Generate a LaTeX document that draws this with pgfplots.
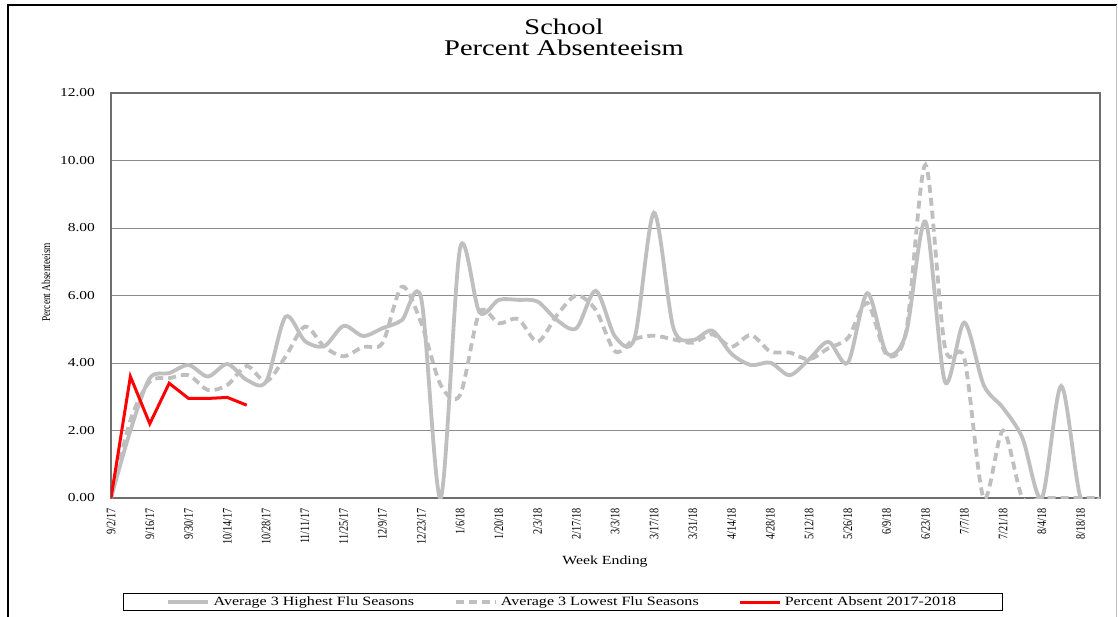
\documentclass[border=0pt]{standalone}
\usepackage{pgfplots}
\pgfplotsset{compat=1.18}
\usepackage{pgfplotstable}
\usepackage{fontspec}
\setmainfont{Liberation Serif}
\usepackage{graphicx}

\definecolor{FluGray}{HTML}{BFBFBF}
\definecolor{GridGray}{HTML}{8C8C8C}
\definecolor{FrameGray}{HTML}{6E6E6E}

% the reference is stretched sideways, so text is too
\newcommand{\hs}[1]{\scalebox{1.27}[1]{#1}}

\pgfplotstableread{
week high low
0 0 0
1 2.0 2.3
2 3.55 3.45
3 3.7 3.55
4 3.94 3.64
5 3.6 3.2
6 3.97 3.35
7 3.5 3.91
8 3.45 3.45
9 5.37 4.19
10 4.65 5.08
11 4.5 4.48
12 5.1 4.2
13 4.8 4.48
14 5.03 4.59
15 5.27 6.26
16 5.9 5.18
17 0 3.35
18 7.4 3.05
19 5.5 5.5
20 5.87 5.18
21 5.87 5.3
22 5.82 4.63
23 5.27 5.42
24 5.03 6.0
25 6.14 5.57
26 4.78 4.34
27 4.74 4.71
28 8.45 4.81
29 5.04 4.7
30 4.68 4.6
31 4.96 4.85
32 4.27 4.48
33 3.94 4.83
34 4.01 4.34
35 3.64 4.31
36 4.11 4.11
37 4.63 4.44
38 4.01 4.74
39 6.07 5.78
40 4.29 4.24
41 4.88 4.93
42 8.19 9.87
43 3.45 4.48
44 5.2 4.14
45 3.35 0
46 2.67 2.0
47 1.78 0
48 0 0
49 3.32 0
50 0 0
51 0 0
}\fludata

\pgfplotstableread{
week pct
0 0
1 3.6
2 2.2
3 3.4
4 2.95
5 2.95
6 2.98
7 2.75
}\thisyear

\begin{document}
\begin{tikzpicture}
\useasboundingbox (0bp,0bp) rectangle (1118bp,-617bp);
\fill[white] (0bp,0bp) rectangle (1118bp,-617bp);
% chart area border
\draw[black, line width=1.2bp] (8bp,-617bp) -- (8bp,-5bp) -- (1117bp,-5bp);
\draw[gray!50, line width=1bp] (1116.5bp,-5bp) -- (1116.5bp,-617bp);

\node[anchor=base, align=center, font=\fontsize{22.5}{21bp}\selectfont] at (564bp,-55.5bp)
  {\hs{School}\\\hs{Percent Absenteeism}};

\begin{axis}[
  at={(111bp,-498bp)}, anchor=south west,
  width=989bp, height=405bp, scale only axis,
  xmin=0, xmax=51, ymin=0, ymax=12,
  axis line style={FrameGray, line width=1.3bp},
  major tick length=0pt,
  ytick={0,2,...,12},
  yticklabels={\hs{0.00},\hs{2.00},\hs{4.00},\hs{6.00},\hs{8.00},\hs{10.00},\hs{12.00}},
  yticklabel style={font=\fontsize{12.2}{14}\selectfont, inner xsep=0pt, xshift=-16bp},
  xtick={0,2,...,50},
  xticklabels={9/2/17,9/16/17,9/30/17,10/14/17,10/28/17,11/11/17,11/25/17,12/9/17,12/23/17,1/6/18,1/20/18,2/3/18,2/17/18,3/3/18,3/17/18,3/31/18,4/14/18,4/28/18,5/12/18,5/26/18,6/9/18,6/23/18,7/7/18,7/21/18,8/4/18,8/18/18},
  xticklabel style={rotate=90, yscale=1.27, anchor=east, font=\fontsize{10.3}{11}\selectfont, inner xsep=10bp, inner ysep=0pt},
  ymajorgrids, grid style={GridGray, line width=0.8bp},
  xlabel={\hs{Week Ending}},
  xlabel style={font=\fontsize{12.5}{14}\selectfont, at={(axis description cs:0.4995,-0.158)}, anchor=center},
  ylabel={Percent Absenteeism},
  ylabel style={font=\fontsize{9.4}{11}\selectfont, yscale=1.27, at={(axis description cs:-0.0657,0.533)}, anchor=center},
  legend columns=3,
  legend image code/.code={\draw[#1] (0bp,0bp) -- (40bp,0bp);},
  legend style={at={(axis description cs:0.457,-0.257)}, anchor=center,
    draw=black, line width=0.8bp, inner xsep=43bp, inner ysep=1.5bp,
    font=\fontsize{12.7}{14}\selectfont,
    nodes={inner xsep=3.5bp},
    /tikz/every even column/.append style={column sep=36bp}},
]
\addplot[FluGray, line width=3.8bp, smooth] table[x=week, y=high] {\fludata};
\addlegendentry{\hs{Average 3 Highest Flu Seasons}}
\addplot[FluGray, line width=3.8bp, smooth, dash pattern=on 8bp off 5bp] table[x=week, y=low] {\fludata};
\addlegendentry{\hs{Average 3 Lowest Flu Seasons}}
\addplot[red, line width=3bp] table[x=week, y=pct] {\thisyear};
\addlegendentry{\hs{Percent Absent 2017-2018}}
\end{axis}
\end{tikzpicture}
\end{document}
